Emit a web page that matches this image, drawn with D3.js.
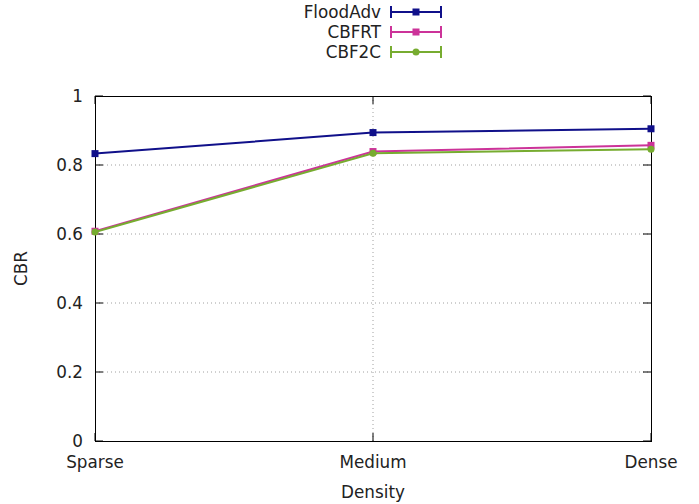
<!DOCTYPE html>
<html><head><meta charset="utf-8">
<script src="https://cdn.jsdelivr.net/npm/d3@7"></script>
<style>body{margin:0;background:#fff}svg{display:block}text{font-family:"DejaVu Sans",sans-serif;}</style>
</head><body>
<script>
const categories = ["Sparse","Medium","Dense"];
const seriesNames = ["FloodAdv","CBFRT","CBF2C"];
const floodAdv = [0.833, 0.894, 0.905];
const cbfrt = [0.608, 0.839, 0.857];
const cbf2c = [0.606, 0.834, 0.846];
const yTicks = [0, 0.2, 0.4, 0.6, 0.8, 1];
const yTickLabels = ["0","0.2","0.4","0.6","0.8","1"];
const colors = ["#10108a","#cc3399","#77ac30"];
const markers = ["square","square","circle"];
const values = [floodAdv, cbfrt, cbf2c];

const W=699,H=504, L=95, R=651, T=96, B=441;
const FS=16.8;
const svg=d3.select("body").append("svg").attr("width",W).attr("height",H);
const x=d3.scalePoint().domain(categories).range([L,R]);
const y=d3.scaleLinear().domain([0,1]).range([B,T]);

// grid
const g=svg.append("g");
yTicks.filter(v=>v>0&&v<1).forEach(v=>{
  g.append("line").attr("x1",L).attr("x2",R).attr("y1",y(v)).attr("y2",y(v))
   .attr("stroke","#a0a0a0").attr("stroke-width",1).attr("stroke-dasharray","1,3");
});
categories.slice(1,-1).forEach(c=>{
  g.append("line").attr("x1",x(c)).attr("x2",x(c)).attr("y1",T).attr("y2",B)
   .attr("stroke","#a0a0a0").attr("stroke-width",1).attr("stroke-dasharray","1,3");
});
// ticks
yTicks.forEach(v=>{
  g.append("line").attr("x1",L).attr("x2",L+8).attr("y1",y(v)).attr("y2",y(v)).attr("stroke","#000");
  g.append("line").attr("x1",R-8).attr("x2",R).attr("y1",y(v)).attr("y2",y(v)).attr("stroke","#000");
});
categories.forEach(c=>{
  g.append("line").attr("x1",x(c)).attr("x2",x(c)).attr("y1",B).attr("y2",B-8).attr("stroke","#000");
  g.append("line").attr("x1",x(c)).attr("x2",x(c)).attr("y1",T).attr("y2",T+8).attr("stroke","#000");
});
// border
svg.append("rect").attr("x",L+0.5).attr("y",T+0.5).attr("width",R-L).attr("height",B-T)
  .attr("fill","none").attr("stroke","#000").attr("stroke-width",1);

// axis labels
yTicks.forEach((v,i)=>{
  svg.append("text").attr("x",L-12).attr("y",y(v)).attr("dy","0.36em").attr("text-anchor","end")
   .attr("font-size",FS).attr("fill","#222").text(yTickLabels[i]);
});
categories.forEach(c=>{
  svg.append("text").attr("x",x(c)).attr("y",B+27).attr("text-anchor","middle")
   .attr("font-size",FS).attr("fill","#222").text(c);
});
svg.append("text").attr("x",x("Medium")).attr("y",498).attr("text-anchor","middle")
  .attr("font-size",FS).attr("fill","#222").text("Density");
svg.append("text").attr("transform","translate(27,"+((T+B)/2)+") rotate(-90)").attr("text-anchor","middle")
  .attr("font-size",FS).attr("fill","#222").text("CBR");

function marker(sel,type,cx,cy,col){
  if(type==="square") sel.append("rect").attr("x",cx-3.5).attr("y",cy-3.5).attr("width",7).attr("height",7).attr("fill",col);
  else sel.append("circle").attr("cx",cx).attr("cy",cy).attr("r",3.5).attr("fill",col);
}
const line=d3.line().x((d,i)=>x(categories[i])).y(d=>y(d));
values.forEach((vals,s)=>{
  const sg=svg.append("g");
  sg.append("path").attr("d",line(vals)).attr("fill","none").attr("stroke",colors[s]).attr("stroke-width",2);
  vals.forEach((v,i)=>marker(sg,markers[s],x(categories[i]),y(v),colors[s]));
});

// legend
seriesNames.forEach((n,s)=>{
  const ly=12+s*20;
  svg.append("text").attr("x",381).attr("y",ly).attr("dy","0.36em").attr("text-anchor","end")
   .attr("font-size",FS).attr("fill","#222").text(n);
  const lg=svg.append("g");
  lg.append("line").attr("x1",391).attr("x2",441).attr("y1",ly).attr("y2",ly).attr("stroke",colors[s]).attr("stroke-width",2);
  [391,441].forEach(xx=>lg.append("line").attr("x1",xx).attr("x2",xx).attr("y1",ly-6).attr("y2",ly+6).attr("stroke",colors[s]).attr("stroke-width",2));
  marker(lg,markers[s],416,ly,colors[s]);
});
</script>
</body></html>
